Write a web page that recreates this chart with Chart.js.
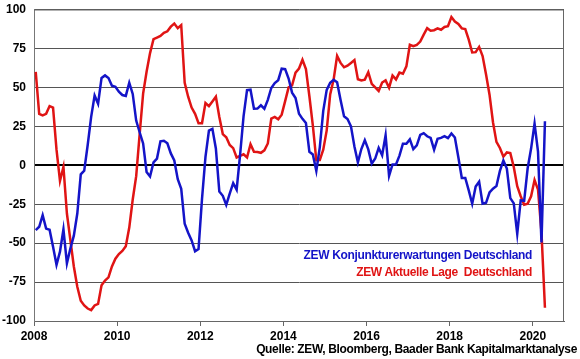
<!DOCTYPE html>
<html>
<head>
<meta charset="utf-8">
<script src="https://cdn.jsdelivr.net/npm/chart.js@4.4.1/dist/chart.umd.min.js"></script>
<style>
  body { margin: 0; background: #fff; }
  #wrap { position: relative; width: 580px; height: 359px; }
  .txt { position: absolute; font-family: "Liberation Sans", Arial, sans-serif; font-weight: bold; font-size: 12px; letter-spacing: -0.35px; white-space: nowrap; }
</style>
</head>
<body>
<div id="wrap">
  <canvas id="grafico" width="580" height="359"></canvas>
  <div class="txt" id="leg1" style="color:#1414c8; right:48px; top:248px;">ZEW Konjunkturerwartungen Deutschland</div>
  <div class="txt" id="leg2" style="color:#e01414; right:48px; top:265px;">ZEW Aktuelle Lage&nbsp; Deutschland</div>
  <div class="txt" id="quelle" style="color:#000; right:3px; top:342px;">Quelle: ZEW, Bloomberg, Baader Bank Kapitalmarktanalyse</div>
</div>
<script>
// Monatswerte ab Januar 2008
const startJahr = 2008;

const erwartungen = [
  -41.6, -39.5, -32.0, -40.7, -41.4, -52.4, -63.9, -55.5, -41.1, -63.0, -53.5, -45.2,
  -31.0, -5.8, -3.5, 13.0, 31.1, 44.8, 39.5, 56.1, 57.7, 56.0, 51.1, 50.4,
  47.2, 45.1, 44.5, 53.0, 45.8, 28.7, 21.2, 14.0, -4.3, -7.2, 1.8, 4.3,
  15.4, 15.7, 14.1, 7.6, 3.1, -9.0, -15.1, -37.6, -43.3, -48.3, -55.2, -53.8,
  -21.6, 5.4, 22.3, 23.4, 10.8, -16.9, -19.6, -25.5, -18.2, -11.5, -15.7, 6.9,
  31.5, 48.2, 48.5, 36.3, 36.4, 38.5, 36.3, 42.0, 49.6, 52.8, 54.6, 62.0,
  61.7, 55.7, 46.6, 43.2, 33.1, 29.8, 27.1, 8.6, 6.9, -3.6, 11.5, 34.9,
  48.4, 53.0, 54.8, 53.3, 41.9, 31.5, 29.7, 25.0, 12.1, 1.9, 10.4, 16.1,
  10.2, 1.0, 4.3, 11.2, 6.4, 19.2, -6.8, 0.5, 0.5, 6.2, 13.8, 13.8,
  16.6, 10.4, 12.8, 19.5, 20.6, 18.6, 17.5, 10.0, 17.0, 17.6, 18.7, 17.4,
  20.4, 17.8, 5.1, -8.2, -8.2, -16.1, -24.7, -13.7, -10.6, -24.7, -24.1, -17.5,
  -15.0, -13.4, -3.6, 3.1, -2.1, -21.1, -24.5, -44.1, -22.5, -22.8, -2.1, 10.7,
  26.7, 8.7, -49.5, 28.2
];

const lage = [
  60, 33, 32, 33, 38, 37, 10, -10, -1, -31, -48, -65,
  -78, -87, -90, -92, -93, -90, -89, -77, -74, -72, -65, -60,
  -57, -55, -52, -40, -22, -7, 20, 46, 60, 72, 81, 82,
  83, 85, 86, 89, 91, 88, 90, 53, 44, 37, 33, 27,
  27, 40, 38, 41, 44, 31, 20, 18, 13, 11, 5, 6,
  7, 5, 13.5, 8.6, 8.5, 8, 9.6, 14, 30, 31, 29.5, 32.5,
  41.2, 50.0, 51.3, 59.5, 62.1, 67.7, 61.8, 44.3, 25.4, 3.2, 3.3, 10.0,
  22.4, 45.5, 55.1, 70.2, 65.7, 62.9, 63.9, 65.7, 67.5, 55.2, 54.4, 55.0,
  59.7, 52.3, 50.0, 47.7, 53.1, 54.5, 49.8, 57.6, 55.1, 59.5, 58.8, 63.5,
  77.3, 76.4, 77.3, 79.4, 83.9, 88.0, 86.4, 86.7, 87.9, 87.0, 88.8, 89.3,
  95.2, 92.3, 90.7, 87.9, 87.4, 80.6, 72.4, 72.6, 76.0, 70.1, 58.2, 45.3,
  27.6, 15.0, 11.1, 5.5, 8.2, 7.8, -1.1, -13.5, -19.9, -25.3, -24.7, -19.9,
  -9.5, -15.7, -43.1, -91.5
];

const jahresTicks = [2008, 2010, 2012, 2014, 2016, 2018, 2020];
const yTicks = [-100, -75, -50, -25, 0, 25, 50, 75, 100];

// Monat i liegt in der Monatsmitte
function punkte(werte) {
  return werte.map((v, i) => ({ x: startJahr + (i + 0.5) / 12, y: v }));
}

const rahmen = {
  id: 'rahmen',
  beforeDatasetsDraw(chart) {
    const a = chart.chartArea;
    const c = chart.ctx;
    c.save();
    c.strokeStyle = '#666';
    c.lineWidth = 1;
    c.beginPath();
    c.moveTo(a.left, a.top + 0.5);
    c.lineTo(a.right - 0.5, a.top + 0.5);
    c.lineTo(a.right - 0.5, a.bottom);
    c.stroke();
    c.restore();
  }
};

const schrift = { family: '"Liberation Sans", Arial, sans-serif', size: 12, weight: 'bold' };

new Chart(document.getElementById('grafico'), {
  type: 'line',
  data: {
    datasets: [
      {
        label: 'ZEW Konjunkturerwartungen Deutschland',
        data: punkte(erwartungen),
        borderColor: '#1414c8',
        borderWidth: 2.5,
        pointRadius: 0,
        tension: 0
      },
      {
        label: 'ZEW Aktuelle Lage Deutschland',
        data: punkte(lage),
        borderColor: '#e01414',
        borderWidth: 2.5,
        pointRadius: 0,
        tension: 0
      }
    ]
  },
  options: {
    responsive: false,
    animation: false,
    layout: { padding: { top: 9.5, right: 16, left: 0, bottom: 0 } },
    plugins: { legend: { display: false }, tooltip: { enabled: false } },
    scales: {
      x: {
        type: 'linear',
        min: 2008,
        max: 2020.75,
        afterBuildTicks(scale) {
          scale.ticks = jahresTicks.map(v => ({ value: v }));
        },
        afterFit(scale) { scale.height = 38; },
        ticks: {
          font: schrift,
          color: '#000',
          padding: 3,
          maxRotation: 0,
          callback: v => String(v)
        },
        grid: { drawOnChartArea: false, drawTicks: true, tickLength: 5, color: '#666' },
        border: { color: '#666', width: 1 }
      },
      y: {
        min: -100,
        max: 100,
        afterBuildTicks(scale) {
          scale.ticks = yTicks.map(v => ({ value: v }));
        },
        afterFit(scale) {
          scale.width = 34;
          scale.paddingTop = 0;
          scale.paddingBottom = 0;
        },
        ticks: { font: schrift, color: '#000', padding: 8 },
        grid: {
          drawTicks: false,
          color: ctx => ctx.tick && ctx.tick.value === 0 ? '#000' : '#555',
          lineWidth: ctx => ctx.tick && ctx.tick.value === 0 ? 2 : 1
        },
        border: { color: '#777', width: 1 }
      }
    }
  },
  plugins: [rahmen]
});
</script>
</body>
</html>
